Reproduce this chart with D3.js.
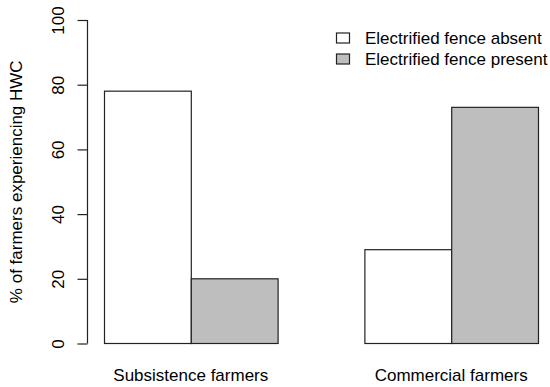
<!DOCTYPE html>
<html>
<head>
<meta charset="utf-8">
<script src="https://cdn.jsdelivr.net/npm/d3@7"></script>
<style>
  body { margin: 0; background: #fff; }
  text { font-family: "Liberation Sans", Arial, sans-serif; fill: #000; }
</style>
</head>
<body>
<svg width="550" height="387"></svg>
<script>
// Data
const groups = ['Subsistence farmers', 'Commercial farmers'];
const series = ['Electrified fence absent', 'Electrified fence present'];
const fence_absent = [78, 29];
const fence_present = [20, 73];
const y_ticks = [0, 20, 40, 60, 80, 100];
const y_label = '% of farmers experiencing HWC';

const svg = d3.select('svg');
const colors = d3.scaleOrdinal().domain(series).range(['#ffffff', '#bebebe']);

const rows = groups.map((g, i) => ({
    group: g,
    values: [
        { key: series[0], value: fence_absent[i] },
        { key: series[1], value: fence_present[i] }
    ]
}));

// Scales
const xScale = d3.scaleBand()
    .domain(groups)
    .range([104, 538])
    .paddingInner(1 / 3)
    .paddingOuter(0);

const xInner = d3.scaleBand()
    .domain(series)
    .range([0, xScale.bandwidth()])
    .padding(0);

const yScale = d3.scaleLinear()
    .domain([0, 100])
    .range([343.5, 20]);

// Bars
const groupG = svg.selectAll('.group')
    .data(rows)
    .enter().append('g')
    .attr('class', 'group')
    .attr('transform', d => `translate(${xScale(d.group)}, 0)`);

groupG.selectAll('rect')
    .data(d => d.values)
    .enter().append('rect')
    .attr('x', d => xInner(d.key) + 0.5)
    .attr('y', d => yScale(d.value))
    .attr('width', xInner.bandwidth())
    .attr('height', d => yScale(0) - yScale(d.value))
    .attr('fill', d => colors(d.key))
    .attr('stroke', '#222')
    .attr('stroke-width', 1.2);

// Group labels
svg.selectAll('.group-label')
    .data(groups)
    .enter().append('text')
    .attr('class', 'group-label')
    .attr('x', d => xScale(d) + xScale.bandwidth() / 2)
    .attr('y', 381)
    .attr('text-anchor', 'middle')
    .style('font-size', '17px')
    .text(d => d);

// Y axis
const yAxis = svg.append('g')
    .attr('transform', 'translate(87.5, 0)')
    .call(d3.axisLeft(yScale).tickValues(y_ticks).tickSize(10).tickSizeOuter(0));

yAxis.select('.domain')
    .attr('stroke', '#222')
    .attr('stroke-width', 1.2)
    .attr('d', `M0,${yScale(0)}V${yScale(100)}`);
yAxis.selectAll('.tick line').attr('stroke', '#222').attr('stroke-width', 1.2);
yAxis.selectAll('.tick text')
    .attr('x', null)
    .attr('dy', null)
    .attr('transform', 'translate(-24, 0) rotate(-90)')
    .attr('text-anchor', 'middle')
    .style('font-size', '17px')
    .style('font-family', '"Liberation Sans", Arial, sans-serif')
    .attr('fill', '#000');

// Y label
svg.append('text')
    .attr('transform', `translate(22, ${(yScale(0) + yScale(100)) / 2}) rotate(-90)`)
    .attr('text-anchor', 'middle')
    .style('font-size', '17px')
    .text(y_label);

// Legend
const legend = svg.append('g')
    .attr('transform', 'translate(336, 38)');

const item = legend.selectAll('.item')
    .data(series)
    .enter().append('g')
    .attr('class', 'item')
    .attr('transform', (d, i) => `translate(0, ${i * 21})`);

item.append('rect')
    .attr('x', 0.5)
    .attr('y', -5)
    .attr('width', 13)
    .attr('height', 10)
    .attr('fill', d => colors(d))
    .attr('stroke', '#222')
    .attr('stroke-width', 1.2);

item.append('text')
    .attr('x', 29)
    .attr('y', 0)
    .attr('dy', '0.36em')
    .style('font-size', '17px')
    .text(d => d);
</script>
</body>
</html>
